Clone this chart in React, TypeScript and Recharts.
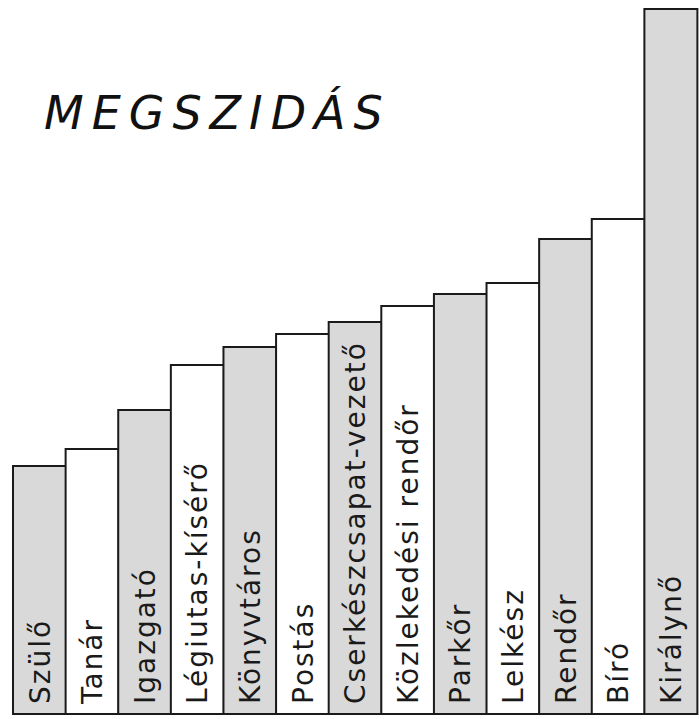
import { Bar, BarChart, Cell, LabelList, XAxis, YAxis } from 'recharts';

const jobs = [
  'Szülő',
  'Tanár',
  'Igazgató',
  'Légiutas-kísérő',
  'Könyvtáros',
  'Postás',
  'Cserkészcsapat-vezető',
  'Közlekedési rendőr',
  'Parkőr',
  'Lelkész',
  'Rendőr',
  'Bíró',
  'Királynő',
];

const scolding = [248, 265, 304, 349, 367, 380, 392, 408, 420, 431, 475, 495, 705];

const fills = ['#d9d9d9', '#ffffff'];

const data = jobs.map((job, i) => ({ job, value: scolding[i] }));

const handFont = '"DejaVu Sans", sans-serif';

function VerticalLabel(props: any) {
  const { x, y, width, height, value } = props;
  const cx = x + width / 2 + 10;
  const cy = y + height - 10;
  return (
    <text
      transform={`translate(${cx}, ${cy}) rotate(-90)`}
      fontSize={28}
      fontFamily={handFont}
      letterSpacing={2}
      fill="#1a1a1a"
    >
      {value}
    </text>
  );
}

export default function App() {
  return (
    <div style={{ position: 'absolute', left: 0, top: 0, width: 699, height: 719, background: '#fff' }}>
      <BarChart
        width={699}
        height={719}
        data={data}
        margin={{ top: 0, right: 2, bottom: 4, left: 13 }}
        barCategoryGap={0}
      >
        <XAxis dataKey="job" tick={false} height={1} axisLine={{ stroke: '#1a1a1a', strokeWidth: 2 }} tickLine={false} />
        <YAxis hide domain={[0, 714]} />
        <Bar dataKey="value" stroke="#1a1a1a" strokeWidth={2} isAnimationActive={false}>
          {data.map((_, i) => (
            <Cell key={i} fill={fills[i % fills.length]} />
          ))}
          <LabelList dataKey="job" content={VerticalLabel} />
        </Bar>
      </BarChart>
      <div
        style={{
          position: 'absolute',
          left: 44,
          top: 86,
          fontFamily: handFont,
          fontStyle: 'italic',
          fontSize: 46,
          letterSpacing: 8,
          color: '#111',
        }}
      >
        MEGSZIDÁS
      </div>
    </div>
  );
}
